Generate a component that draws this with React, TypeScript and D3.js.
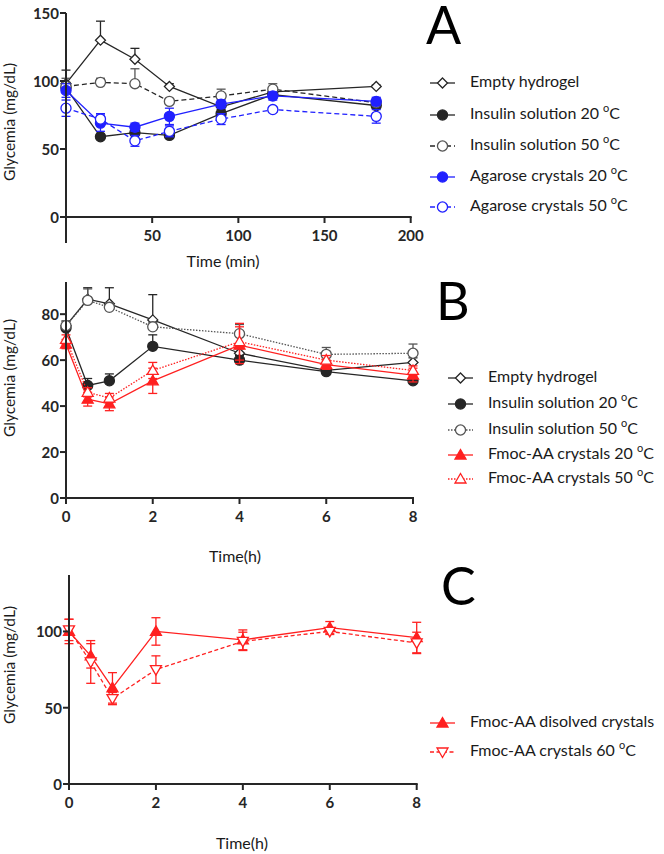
import React from "react";
import * as d3 from "d3";

// ---------- Panel A data (time in min) ----------
const timeA = [0, 20, 40, 60, 90, 120, 180];
const emptyA = [98, 130, 116, 96, 81, 92, 96];
const emptyAErr = [10, 14, 8, 2, 2, 3, 1];
const ins20A = [95, 59, 62, 60, 76, 90, 82];
const ins20AErr = [4, 2, 3, 3, 3, 2, 3];
const ins50A = [96, 99, 98, 85, 89, 94, 84];
const ins50AErr = [6, 3, 11, 2, 5, 4, 2];
const aga20A = [93, 69, 66, 74, 83, 89, 85];
const aga20AErr = [5, 6, 3, 6, 3, 3, 3];
const aga50A = [80, 72, 56, 63, 72, 79, 74];
const aga50AErr = [6, 4, 4, 4, 4, 2, 5];

// ---------- Panel B data (time in h) ----------
const timeB = [0, 0.5, 1, 2, 4, 6, 8];
const emptyB = [75, 86.5, 84.5, 77.5, 63, 55.5, 59];
const emptyBErr = [2, 5, 7, 11, 2, 2, 2];
const ins20B = [74, 49, 51, 66, 60, 55, 51];
const ins20BErr = [2, 3, 3, 5, 2, 1, 1];
const ins50B = [75, 86, 83, 74.5, 71.5, 62.5, 63];
const ins50BErr = [2, 5, 2, 2, 4, 3, 4];
const fmoc20B = [67, 43, 41, 51, 66.5, 58, 53.5];
const fmoc20BErr = [2, 3, 3, 5.5, 8, 2, 3];
const fmoc50B = [69, 46, 43.5, 55.5, 68, 60, 55.5];
const fmoc50BErr = [2, 2, 2, 3.5, 8, 2, 2];

// ---------- Panel C data (time in h) ----------
const timeC = [0, 0.5, 1, 2, 4, 6, 8];
const dissolvedC = [100, 84, 63, 100, 94.5, 102.5, 96];
const dissolvedCErr = [8, 8, 10, 9, 6.5, 4, 10];
const crys60C = [101, 80, 56, 75, 93.5, 100, 92.5];
const crys60CErr = [7, 14, 4, 9, 6, 2, 7];

// ---------- Axis ticks ----------
const yTicksA = [0, 50, 100, 150];
const xTicksA = [50, 100, 150, 200];
const yTicksB = [0, 20, 40, 60, 80];
const xTicksB = [0, 2, 4, 6, 8];
const yTicksC = [0, 50, 100];
const xTicksC = [0, 2, 4, 6, 8];

const FONT = "Lato, 'Open Sans', 'DejaVu Sans', sans-serif";
const BLACK = "#262626";
const GRAY = "#555555";
const BLUE = "#2020ff";
const RED = "#ff2020";

type Marker = "diamond" | "circle" | "circleOpen" | "triUp" | "triUpOpen" | "triDown";

type Series = {
  label: string;
  temp?: string;
  x: number[];
  y: number[];
  err: number[];
  both: boolean;
  stroke: string;
  markerStroke: string;
  dash?: string;
  marker: Marker;
};

function markerPath(m: Marker): string {
  switch (m) {
    case "diamond":
      return "M0,-5L5,0L0,5L-5,0Z";
    case "circle":
    case "circleOpen":
      return d3.symbol(d3.symbolCircle, 80)() as string;
    case "triUp":
    case "triUpOpen":
      return "M0,-5.5L5.5,4L-5.5,4Z";
    case "triDown":
      return "M0,5.5L5.5,-4L-5.5,-4Z";
  }
}

function MarkerShape({ m, x, y, color }: { m: Marker; x: number; y: number; color: string }) {
  const filled = m === "circle" || m === "triUp";
  return (
    <path
      d={markerPath(m)}
      transform={`translate(${x},${y})`}
      fill={filled ? color : "#ffffff"}
      stroke={color}
      strokeWidth={1.3}
    />
  );
}

function Label({ s, x, y }: { s: Series; x: number; y: number }) {
  return (
    <text x={x} y={y} fontFamily={FONT} fontSize={16} fill="#1a1a1a" dominantBaseline="middle">
      {s.label}
      {s.temp ? (
        <>
          {" " + s.temp + " "}
          <tspan fontSize={11} dy={-6}>o</tspan>
          <tspan dy={6}>C</tspan>
        </>
      ) : null}
    </text>
  );
}

type PanelProps = {
  xDomain: [number, number];
  xRange: [number, number];
  yDomain: [number, number];
  yRange: [number, number];
  xTicks: number[];
  yTicks: number[];
  axisBottom: number;
  xTitle: string;
  xTitleX: number;
  xTitleY: number;
  yTitleY: number;
  letter: string;
  letterX: number;
  letterY: number;
  legendX: number;
  legendY: number[];
  series: Series[];
};

function Panel(p: PanelProps) {
  const x = d3.scaleLinear().domain(p.xDomain).range(p.xRange);
  const y = d3.scaleLinear().domain(p.yDomain).range(p.yRange);
  const x0 = p.xRange[0];
  const y0 = p.yRange[0];
  return (
    <g>
      {/* series */}
      {p.series.map((s, si) => {
        const pts = s.x.map((xv, i) => [x(xv), y(s.y[i])] as [number, number]);
        const path = d3.line()(pts) as string;
        return (
          <g key={si}>
            <path d={path} fill="none" stroke={s.stroke} strokeWidth={1.3} strokeDasharray={s.dash} />
            {s.x.map((xv, i) => {
              const cx = x(xv);
              const top = y(s.y[i] + s.err[i]);
              const bot = s.both ? y(s.y[i] - s.err[i]) : y(s.y[i]);
              return (
                <g key={i} stroke={s.markerStroke} strokeWidth={1.3}>
                  <line x1={cx} x2={cx} y1={top} y2={bot} />
                  <line x1={cx - 4.5} x2={cx + 4.5} y1={top} y2={top} />
                  {s.both ? <line x1={cx - 4.5} x2={cx + 4.5} y1={bot} y2={bot} /> : null}
                </g>
              );
            })}
            {s.x.map((xv, i) => (
              <MarkerShape key={"m" + i} m={s.marker} x={x(xv)} y={y(s.y[i])} color={s.markerStroke} />
            ))}
          </g>
        );
      })}
      {/* axes */}
      <g stroke={BLACK} strokeWidth={2} fill="none">
        <line x1={x0} x2={x0} y1={p.yRange[1]} y2={p.axisBottom} />
        <line x1={x0} x2={p.xRange[1] + 1} y1={y0} y2={y0} />
        {p.yTicks.map((t) => (
          <line key={"yt" + t} x1={x0 - 6} x2={x0} y1={y(t)} y2={y(t)} />
        ))}
        {p.xTicks.map((t) => (
          <line key={"xt" + t} x1={x(t)} x2={x(t)} y1={y0} y2={y0 + 6} />
        ))}
      </g>
      {p.yTicks.map((t) => (
        <text
          key={"yl" + t}
          x={x0 - 7}
          y={y(t)}
          textAnchor="end"
          dominantBaseline="central"
          fontFamily={FONT}
          fontWeight={700}
          fontSize={15}
          fill={BLACK}
        >
          {t}
        </text>
      ))}
      {p.xTicks.map((t) => (
        <text
          key={"xl" + t}
          x={x(t)}
          y={y0 + 24}
          textAnchor="middle"
          fontFamily={FONT}
          fontWeight={700}
          fontSize={15}
          fill={BLACK}
        >
          {t}
        </text>
      ))}
      <text x={p.xTitleX} y={p.xTitleY} textAnchor="middle" dominantBaseline="middle" fontFamily={FONT} fontSize={16} fill="#1a1a1a">
        {p.xTitle}
      </text>
      <text
        transform={`translate(15,${p.yTitleY}) rotate(-90)`}
        textAnchor="middle"
        fontFamily={FONT}
        fontSize={15.5}
        fill="#1a1a1a"
      >
        Glycemia (mg/dL)
      </text>
      <text x={p.letterX} y={p.letterY} fontFamily={FONT} fontSize={52} fill="#000">
        {p.letter}
      </text>
      {/* legend */}
      {p.series.map((s, i) => {
        const ly = p.legendY[i];
        return (
          <g key={"lg" + i}>
            <line
              x1={p.legendX}
              x2={p.legendX + 25}
              y1={ly}
              y2={ly}
              stroke={s.stroke}
              strokeWidth={1.3}
              strokeDasharray={s.dash}
            />
            <MarkerShape m={s.marker} x={p.legendX + 12.5} y={ly} color={s.markerStroke} />
            <Label s={s} x={p.legendX + 40} y={ly} />
          </g>
        );
      })}
    </g>
  );
}

const seriesA: Series[] = [
  { label: "Empty hydrogel", x: timeA, y: emptyA, err: emptyAErr, both: false, stroke: BLACK, markerStroke: BLACK, marker: "diamond" },
  { label: "Insulin solution", temp: "20", x: timeA, y: ins20A, err: ins20AErr, both: false, stroke: BLACK, markerStroke: BLACK, marker: "circle" },
  { label: "Insulin solution", temp: "50", x: timeA, y: ins50A, err: ins50AErr, both: false, stroke: BLACK, markerStroke: GRAY, dash: "5,3", marker: "circleOpen" },
  { label: "Agarose crystals", temp: "20", x: timeA, y: aga20A, err: aga20AErr, both: true, stroke: BLUE, markerStroke: BLUE, marker: "circle" },
  { label: "Agarose crystals", temp: "50", x: timeA, y: aga50A, err: aga50AErr, both: true, stroke: BLUE, markerStroke: BLUE, dash: "5,3", marker: "circleOpen" },
];

const seriesB: Series[] = [
  { label: "Empty hydrogel", x: timeB, y: emptyB, err: emptyBErr, both: false, stroke: BLACK, markerStroke: BLACK, marker: "diamond" },
  { label: "Insulin solution", temp: "20", x: timeB, y: ins20B, err: ins20BErr, both: false, stroke: BLACK, markerStroke: BLACK, marker: "circle" },
  { label: "Insulin solution", temp: "50", x: timeB, y: ins50B, err: ins50BErr, both: false, stroke: GRAY, markerStroke: GRAY, dash: "1.5,1.5", marker: "circleOpen" },
  { label: "Fmoc-AA crystals", temp: "20", x: timeB, y: fmoc20B, err: fmoc20BErr, both: true, stroke: RED, markerStroke: RED, marker: "triUp" },
  { label: "Fmoc-AA crystals", temp: "50", x: timeB, y: fmoc50B, err: fmoc50BErr, both: true, stroke: RED, markerStroke: RED, dash: "1.5,1.5", marker: "triUpOpen" },
];

const seriesC: Series[] = [
  { label: "Fmoc-AA disolved crystals", x: timeC, y: dissolvedC, err: dissolvedCErr, both: true, stroke: RED, markerStroke: RED, marker: "triUp" },
  { label: "Fmoc-AA crystals", temp: "60", x: timeC, y: crys60C, err: crys60CErr, both: true, stroke: RED, markerStroke: RED, dash: "4,2.5", marker: "triDown" },
];

export default function App() {
  return (
    <svg width={664} height={854} style={{ position: "absolute", left: 0, top: 0, background: "#fff" }}>
      <rect width={664} height={854} fill="#fff" />
      <Panel
        xDomain={[0, 200]}
        xRange={[66, 410.7]}
        yDomain={[0, 150]}
        yRange={[217, 13]}
        xTicks={xTicksA}
        yTicks={yTicksA}
        axisBottom={243}
        xTitle="Time (min)"
        xTitleX={223}
        xTitleY={263}
        yTitleY={122}
        letter="A"
        letterX={426}
        letterY={44}
        legendX={430}
        legendY={[83, 115, 146, 177, 207]}
        series={seriesA}
      />
      <Panel
        xDomain={[0, 8]}
        xRange={[66, 413]}
        yDomain={[0, 94]}
        yRange={[498, 282]}
        xTicks={xTicksB}
        yTicks={yTicksB}
        axisBottom={504}
        xTitle="Time(h)"
        xTitleX={235}
        xTitleY={558}
        yTitleY={378}
        letter="B"
        letterX={436}
        letterY={320}
        legendX={448}
        legendY={[378, 404, 430, 455, 479]}
        series={seriesB}
      />
      <Panel
        xDomain={[0, 8]}
        xRange={[69, 416.7]}
        yDomain={[0, 137]}
        yRange={[784, 575]}
        xTicks={xTicksC}
        yTicks={yTicksC}
        axisBottom={790}
        xTitle="Time(h)"
        xTitleX={242}
        xTitleY={845}
        yTitleY={665}
        letter="C"
        letterX={441}
        letterY={605}
        legendX={430}
        legendY={[723, 752]}
        series={seriesC}
      />
    </svg>
  );
}
